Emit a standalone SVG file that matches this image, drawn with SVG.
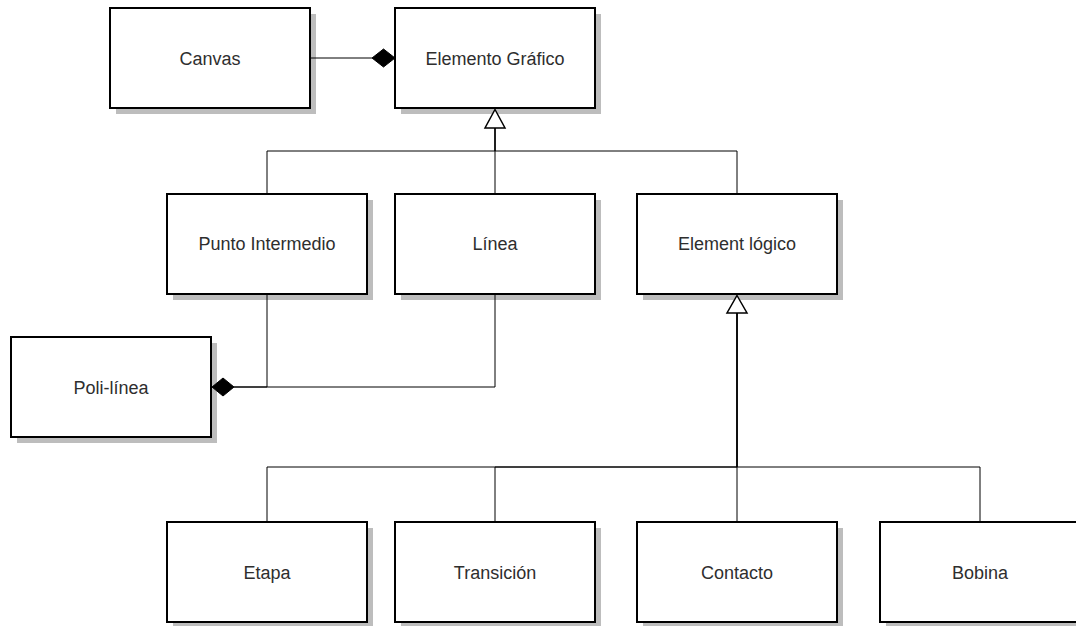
<svg xmlns="http://www.w3.org/2000/svg" width="1076" height="626" viewBox="0 0 1076 626">
  <style>
    .box { fill: #ffffff; stroke: #000000; stroke-width: 2; }
    .shadow { fill: #bdbdbd; stroke: none; }
    .label { font-family: "Liberation Sans", Arial, sans-serif; font-size: 18px; fill: #2e2e2e; text-anchor: middle; }
    .edge { fill: none; stroke: #000000; stroke-width: 1; }
    .tri { fill: #ffffff; stroke: #000000; stroke-width: 1.5; stroke-linejoin: miter; }
    .dia { fill: #000000; stroke: #000000; stroke-width: 1; }
  </style>
  <rect width="1076" height="626" fill="#ffffff"/>

  <g id="canvas">
    <rect class="shadow" x="116" y="14" width="200" height="100"/>
    <rect class="box" x="110" y="8" width="200" height="100"/>
    <text class="label" x="210" y="64.5">Canvas</text>
  </g>
  <g id="elemento-grafico">
    <rect class="shadow" x="401" y="14" width="200" height="100"/>
    <rect class="box" x="395" y="8" width="200" height="100"/>
    <text class="label" x="495" y="64.5">Elemento Gráfico</text>
  </g>
  <g id="punto-intermedio">
    <rect class="shadow" x="173" y="200" width="200" height="100"/>
    <rect class="box" x="167" y="194" width="200" height="100"/>
    <text class="label" x="267" y="250">Punto Intermedio</text>
  </g>
  <g id="linea">
    <rect class="shadow" x="401" y="200" width="200" height="100"/>
    <rect class="box" x="395" y="194" width="200" height="100"/>
    <text class="label" x="495" y="250">Línea</text>
  </g>
  <g id="element-logico">
    <rect class="shadow" x="643" y="200" width="200" height="100"/>
    <rect class="box" x="637" y="194" width="200" height="100"/>
    <text class="label" x="737" y="250">Element lógico</text>
  </g>
  <g id="poli-linea">
    <rect class="shadow" x="17" y="343" width="200" height="100"/>
    <rect class="box" x="11" y="337" width="200" height="100"/>
    <text class="label" x="111" y="393.5">Poli-línea</text>
  </g>
  <g id="etapa">
    <rect class="shadow" x="173" y="528" width="200" height="100"/>
    <rect class="box" x="167" y="522" width="200" height="100"/>
    <text class="label" x="267" y="578.5">Etapa</text>
  </g>
  <g id="transicion">
    <rect class="shadow" x="401" y="528" width="200" height="100"/>
    <rect class="box" x="395" y="522" width="200" height="100"/>
    <text class="label" x="495" y="578.5">Transición</text>
  </g>
  <g id="contacto">
    <rect class="shadow" x="643" y="528" width="200" height="100"/>
    <rect class="box" x="637" y="522" width="200" height="100"/>
    <text class="label" x="737" y="578.5">Contacto</text>
  </g>
  <g id="bobina">
    <rect class="shadow" x="886" y="528" width="200" height="100"/>
    <rect class="box" x="880" y="522" width="200" height="100"/>
    <text class="label" x="980" y="578.5">Bobina</text>
  </g>

  <!-- connectors, drawn on top of the node shadows -->
  <g id="connectors">
    <!-- Canvas composition -->
    <path class="edge" d="M311,58 H372"/>
    <!-- inheritance to Elemento Gráfico -->
    <path class="edge" d="M267,193 V151 H495 V128"/>
    <path class="edge" d="M495,193 V128"/>
    <path class="edge" d="M737,193 V151 H495 V128"/>
    <!-- Poli-línea composition -->
    <path class="edge" d="M267,295 V387 H234"/>
    <path class="edge" d="M495,295 V387 H234"/>
    <!-- inheritance to Element lógico -->
    <path class="edge" d="M267,521 V467 H737 V313"/>
    <path class="edge" d="M495,521 V467 H737 V313"/>
    <path class="edge" d="M737,521 V313"/>
    <path class="edge" d="M980,521 V467 H737 V313"/>
    <!-- ends -->
    <polygon class="dia" points="395,58 383.5,49 372,58 383.5,67"/>
    <polygon class="dia" points="212,387 223,378 234,387 223,396"/>
    <polygon class="tri" points="495,109.5 505,128 485,128"/>
    <polygon class="tri" points="737,295.5 747,313 727,313"/>
  </g>
</svg>
